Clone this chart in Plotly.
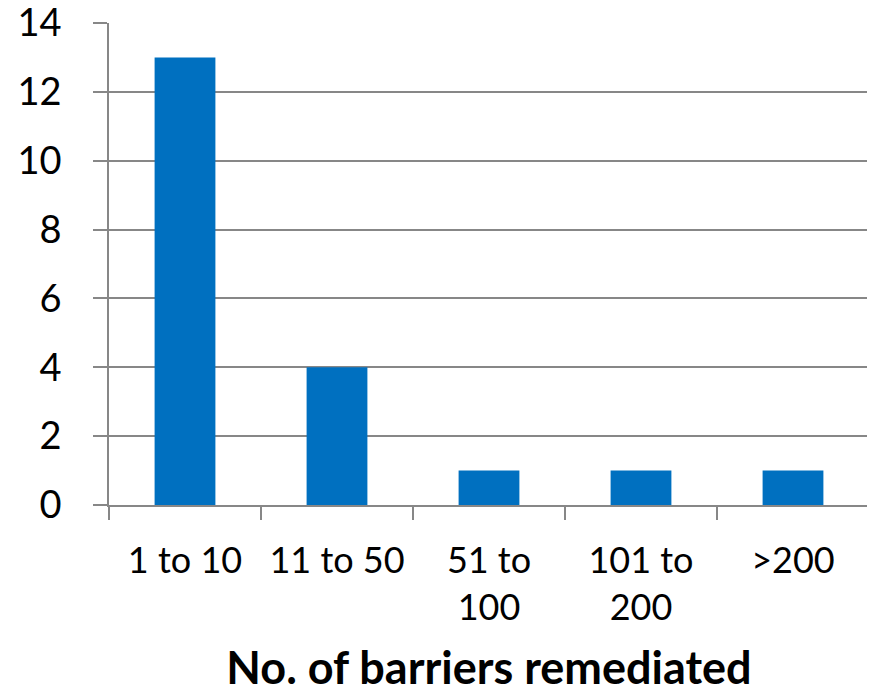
import plotly.graph_objects as go

categories = ["1 to 10", "11 to 50", "51 to<br>100", "101 to<br>200", ">200"]
values = [13, 4, 1, 1, 1]
y_ticks = [0, 2, 4, 6, 8, 10, 12, 14]
x_title = "No. of barriers remediated"

FONT = "Lato, 'Open Sans', sans-serif"
GRID = "#878787"

fig = go.Figure(go.Bar(x=categories, y=values, marker=dict(color="#0070C0", line=dict(width=0)), width=0.4))

# page body has an 8px default margin, so the figure is sized/margined to compensate
fig.update_layout(
    width=867, height=686,
    margin=dict(l=101, r=6, t=15, b=189),
    paper_bgcolor="white", plot_bgcolor="white",
    showlegend=False,
    font=dict(family=FONT, size=36, color="black"),
    xaxis=dict(
        range=[-0.5, 4.5], showline=True, linecolor=GRID, linewidth=1.5,
        ticks="outside", ticklen=13, tickcolor=GRID, tickwidth=1.5,
        tickson="boundaries", showgrid=False, tickangle=0, automargin=False,
        tickfont=dict(family=FONT, size=36, color="black"),
        ticklabelstandoff=23,
        title=dict(text="<b>" + x_title + "</b>", font=dict(family=FONT, size=45, color="black"), standoff=27),
    ),
    yaxis=dict(
        range=[0, 14], tickvals=y_ticks, showline=True, linecolor=GRID, linewidth=1.5,
        ticks="outside", ticklen=14, tickcolor=GRID, tickwidth=1.5, automargin=False,
        showgrid=True, gridcolor=GRID, gridwidth=1.5, zeroline=False,
        tickfont=dict(family=FONT, size=38, color="black"),
        ticklabelstandoff=24, ticklabeloverflow="allow",
    ),
)

fig.write_html("out.html", config={"displayModeBar": False})
